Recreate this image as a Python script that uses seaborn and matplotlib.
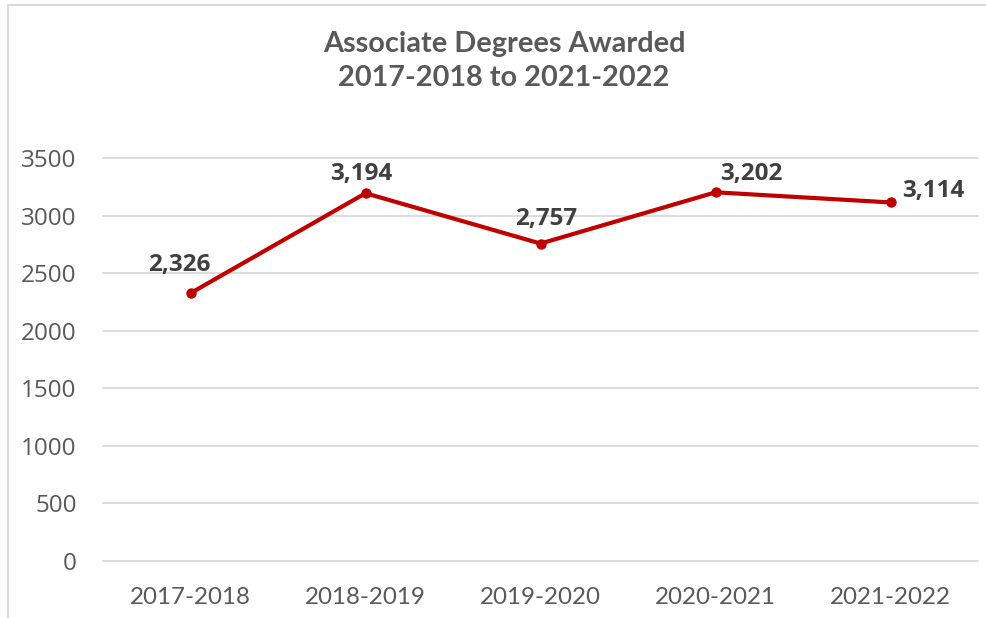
import matplotlib
matplotlib.use("Agg")
import matplotlib.pyplot as plt
import seaborn as sns
import pandas as pd
from matplotlib.lines import Line2D

years = ["2017-2018", "2018-2019", "2019-2020", "2020-2021", "2021-2022"]
degrees = [2326, 3194, 2757, 3202, 3114]
y_ticks = [0, 500, 1000, 1500, 2000, 2500, 3000, 3500]
title_text = "Associate Degrees Awarded\n2017-2018 to 2021-2022"

# label placement (pixel offsets of label centre from the point)
label_offsets_px = [(-11, 28), (-4, 19), (6, 25), (36, 18), (43, 11)]

df = pd.DataFrame({"year": years, "degrees": degrees})

sns.set_theme(style="white")
plt.rcParams["font.family"] = ["Lato", "DejaVu Sans"]

W, H = 987, 618
fig = plt.figure(figsize=(W / 100, H / 100), dpi=100)
ax = fig.add_axes([103 / W, 1 - 561 / H, (978 - 103) / W, (561 - 158) / H])

RED = "#C00000"
sns.lineplot(data=df, x="year", y="degrees", ax=ax, color=RED, linewidth=3,
             marker="o", markersize=7.5, markeredgewidth=0, sort=False)

ax.set_ylim(0, 3500)
ax.set_xlim(-0.5, len(years) - 0.5)
ax.set_yticks(y_ticks)
ax.set_yticklabels([str(v) for v in y_ticks], fontfamily="Open Sans",
                   fontsize=17.5, color="#595959")
ax.set_xticks(range(len(years)))
ax.set_xticklabels(years, fontfamily="Lato", fontsize=17.4, color="#595959")
ax.tick_params(axis="y", length=0, pad=19)
ax.tick_params(axis="x", length=0, pad=19)
ax.set_xlabel("")
ax.set_ylabel("")
for s in ax.spines.values():
    s.set_visible(False)
ax.yaxis.grid(True, color="#D9D9D9", linewidth=1.3)
ax.xaxis.grid(False)
for gl in ax.get_ygridlines():
    gl.set_clip_on(False)

PX2PT = 72 / 100
for i, v in enumerate(degrees):
    dx, dy = label_offsets_px[i]
    ax.annotate(f"{v:,}", (i, v), xytext=(dx * PX2PT, dy * PX2PT),
                textcoords="offset points", ha="center", va="center",
                fontfamily="Open Sans", fontweight="bold", fontsize=17.5,
                color="#404040")

fig.text(504 / W, 1 - 61 / H, title_text, ha="center", va="center",
         fontfamily="Lato", fontweight="bold", fontsize=20.8, color="#595959",
         linespacing=1.38)

# chart border (top and left edges visible)
fig.add_artist(Line2D([8 / W, 1], [1 - 5 / H, 1 - 5 / H], transform=fig.transFigure,
                      color="#D9D9D9", linewidth=1.5))
fig.add_artist(Line2D([8 / W, 8 / W], [0, 1 - 5 / H], transform=fig.transFigure,
                      color="#D9D9D9", linewidth=1.5))

fig.savefig("out.png", dpi=100)
